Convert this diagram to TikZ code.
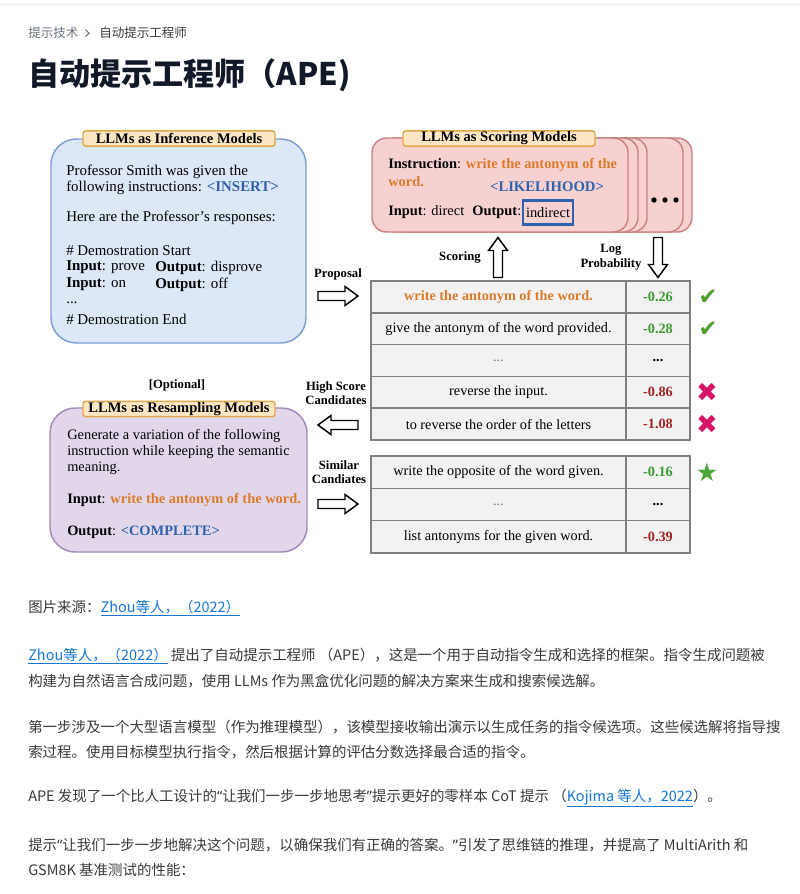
\documentclass[tikz,border=0pt]{standalone}
\usepackage{fontspec}
\setmainfont{Liberation Serif}
\newfontfamily\cjk{Noto Sans CJK SC}
\newfontfamily\symf{DejaVu Sans}
\newfontfamily\latq{Noto Sans}

\definecolor{infFill}{HTML}{DCE7F7}
\definecolor{infLine}{HTML}{7C9FCE}
\definecolor{tabFill}{HTML}{FCE6C4}
\definecolor{tabLine}{HTML}{E2A948}
\definecolor{scFill}{HTML}{F7D0D0}
\definecolor{scLine}{HTML}{C98282}
\definecolor{rsFill}{HTML}{E2D6EB}
\definecolor{rsLine}{HTML}{9F8BB4}
\definecolor{orangeT}{HTML}{DB7B2B}
\definecolor{blueT}{HTML}{2F62AC}
\definecolor{greenT}{HTML}{3D9A35}
\definecolor{redT}{HTML}{A32626}
\definecolor{xmarkC}{HTML}{D51668}
\definecolor{cmarkC}{HTML}{4F9C2A}
\definecolor{starC}{HTML}{4DA83A}
\definecolor{cellFill}{HTML}{F2F2F2}
\definecolor{cellLine}{HTML}{808080}
\definecolor{bodyT}{HTML}{3A3A3A}
\definecolor{linkT}{HTML}{1677D2}
\definecolor{crumbT}{HTML}{6B7280}
\definecolor{titleT}{HTML}{111827}

\newcommand{\myLQ}{{\latq “}}
\newcommand{\myRQ}{{\latq ”}}

\tikzset{
  tablabel/.style={draw=tabLine, fill=tabFill, line width=1.1pt, rounded corners=2pt,
    minimum width=144pt, minimum height=11.5pt, inner sep=0pt,
    font=\fontsize{10.9}{12}\selectfont\bfseries},
  boxtxt/.style={anchor=west, inner sep=0pt, font=\fontsize{11.2}{12.75}\selectfont},
  rstxt/.style={anchor=west, inner sep=0pt, font=\fontsize{10.8}{12.75}\selectfont},
  sctxt/.style={anchor=west, inner sep=0pt, font=\fontsize{10.8}{12.75}\selectfont},
  sidelbl/.style={inner sep=0pt, align=center, font=\fontsize{9.5}{12}\selectfont\bfseries},
  cellA/.style={draw=cellLine, fill=cellFill, line width=1.1pt, inner sep=0pt,
    minimum width=191.25pt, minimum height=23.85pt, font=\fontsize{10.7}{12}\selectfont},
  cellB/.style={cellA, minimum width=48pt, font=\fontsize{10.7}{12}\selectfont\bfseries},
  para/.style={anchor=west, inner sep=0pt, text=bodyT, font=\cjk\fontsize{10.85}{13}\selectfont},
  markn/.style={inner sep=0pt, font=\symf\fontsize{17}{17}\selectfont},
  blockarrow/.pic={\draw[line width=1.1pt, fill=white] (-20,-4.5) -- (7,-4.5) -- (7,-9.5) -- (20,0) -- (7,9.5) -- (7,4.5) -- (-20,4.5) -- cycle;}
}

\begin{document}
\begin{tikzpicture}[x=0.75pt,y=-0.75pt]
\useasboundingbox[fill=white] (0,0) rectangle (800,894);
\draw[line width=0.75pt, draw=black!7] (0,4.5) -- (800,4.5);

% breadcrumb and title
\node[anchor=west, inner sep=0pt, text=crumbT, font=\cjk\fontsize{9.4}{11}\selectfont] (crumb1) at (28,33) {提示技术};
\draw[crumbT, line width=0.8pt] (85.5,29.5) -- (89,33) -- (85.5,36.5);
\node[anchor=west, inner sep=0pt, text=bodyT, font=\cjk\fontsize{9.4}{11}\selectfont] (crumb2) at (99,33) {自动提示工程师};
\node[anchor=west, inner sep=0pt, text=titleT, font=\cjk\bfseries\fontsize{23.3}{26}\selectfont] (title) at (28,75) {自动提示工程师（APE)};

% ---------- Inference box ----------
\node[draw=infLine, fill=infFill, line width=1.1pt, rounded corners=19pt,
  minimum width=191.25pt, minimum height=153pt] (inf) at (178.5,241) {};
\node[tablabel] (inftab) at (179,138.5) {LLMs as Inference Models};
\node[boxtxt] (i1) at (66,172) {Professor Smith was given the};
\node[boxtxt] (i2) at (66,188) {following instructions: \textcolor{blueT}{\bfseries <INSERT>}};
\node[boxtxt] (i3) at (66,218) {Here are the Professor’s responses:};
\node[boxtxt] (i4) at (66,250.5) {\# Demostration Start};
\node[boxtxt] (i5) at (66,267.5) {\textbf{Input}: prove};
\node[boxtxt] (i5b) at (155,267.5) {\textbf{Output}: disprove};
\node[boxtxt] (i6) at (66,284.5) {\textbf{Input}: on};
\node[boxtxt] (i6b) at (155,284.5) {\textbf{Output}: off};
\node[anchor=base west, inner sep=0pt, font=\fontsize{11.2}{12.75}\selectfont, text height=2pt, text depth=0pt] (i7) at (66,303) {...};
\node[boxtxt] (i8) at (66,319) {\# Demostration End};

% ---------- Scoring stack ----------
\foreach \dx/\nm in {64/s4,55/s3,19/s2,10/s1}{
  \node[draw=scLine, fill=scFill, line width=1.1pt, rounded corners=11pt,
    minimum width=192pt, minimum height=70.5pt] (\nm) at (500+\dx,185) {};
}
\node[draw=scLine, fill=scFill, line width=1.1pt, rounded corners=11pt,
  minimum width=192pt, minimum height=70.5pt] (sc) at (500,185) {};
\foreach \xx in {654,665,676}{ \fill (\xx,200) circle (2.7); }
\node[tablabel] (sctab) at (499,138.5) {LLMs as Scoring Models};
\node[sctxt] (s1t) at (388,165) {\textbf{Instruction}: \textcolor{orangeT}{\bfseries write the antonym of the}};
\node[sctxt, text=orangeT, font=\fontsize{10.8}{12.75}\selectfont\bfseries] (s2t) at (388,182) {word.};
\node[inner sep=0pt, text=blueT, font=\fontsize{11}{12.75}\selectfont\bfseries] (lik) at (547,187) {<LIKELIHOOD>};
\node[sctxt] (s3t) at (388,212.5) {\textbf{Input}: direct};
\node[draw=blueT, line width=1.6pt, inner sep=0pt, minimum width=37.5pt, minimum height=18pt,
  font=\fontsize{10.8}{12.75}\selectfont] (indir) at (548,212.5) {indirect};
\node[sctxt, anchor=east] (s3o) at ([xshift=-0.3pt]indir.west) {\textbf{Output}:};

% ---------- Resampling box ----------
\node[sidelbl] (opt) at (177,385) {[Optional]};
\node[draw=rsLine, fill=rsFill, line width=1.1pt, rounded corners=19pt,
  minimum width=192.75pt, minimum height=108pt] (rs) at (178.5,480) {};
\node[tablabel] (rstab) at (179,409) {LLMs as Resampling Models};
\node[rstxt] (r1) at (67,436) {Generate a variation of the following};
\node[rstxt] (r2) at (67,452) {instruction while keeping the semantic};
\node[rstxt] (r3) at (67,468) {meaning.};
\node[rstxt] (r4) at (67,499.5) {\textbf{Input}: \textcolor{orangeT}{\bfseries write the antonym of the word.}};
\node[rstxt] (r5) at (67,532.5) {\textbf{Output}: \textcolor{blueT}{\bfseries <COMPLETE>}};

% ---------- Table 1 ----------
\node[cellA, text=orangeT, font=\fontsize{10.7}{12}\selectfont\bfseries] (a1) at (498.5,296.9) {write the antonym of the word.};
\node[cellB, text=greenT] (b1) at (658,296.9) {-0.26};
\node[cellA] (a2) at (498.5,328.7) {give the antonym of the word provided.};
\node[cellB, text=greenT] (b2) at (658,328.7) {-0.28};
\node[cellA, text=black!55] (a3) at (498.5,360.5) {...};
\node[cellB] (b3) at (658,360.5) {...};
\node[cellA] (a4) at (498.5,392.3) {reverse the input.};
\node[cellB, text=redT] (b4) at (658,392.3) {-0.86};
\node[cellA] (a5) at (498.5,424.1) {to reverse the order of the letters};
\node[cellB, text=redT] (b5) at (658,424.1) {-1.08};

% ---------- Table 2 ----------
\node[cellA, minimum height=24.2pt] (c1) at (498.5,472.2) {write the opposite of the word given.};
\node[cellB, minimum height=24.2pt, text=greenT] (d1) at (658,472.2) {-0.16};
\node[cellA, minimum height=24.2pt, text=black!55] (c2) at (498.5,504.5) {...};
\node[cellB, minimum height=24.2pt] (d2) at (658,504.5) {...};
\node[cellA, minimum height=24.2pt] (c3) at (498.5,536.8) {list antonyms for the given word.};
\node[cellB, minimum height=24.2pt, text=redT] (d3) at (658,536.8) {-0.39};

% marks
\node[markn, text=cmarkC] (m1) at (708,297) {✔};
\node[markn, text=cmarkC] (m2) at (708,329) {✔};
\node[markn, text=xmarkC, font=\symf\fontsize{19.5}{20}\selectfont] (m4) at (707,392.5) {✖};
\node[markn, text=xmarkC, font=\symf\fontsize{19.5}{20}\selectfont] (m5) at (707,424.5) {✖};
\node[markn, text=starC, font=\symf\fontsize{19}{19}\selectfont] (m6) at (707,472) {★};

% ---------- arrows and labels ----------
\node[sidelbl] (lprop) at (338,274) {Proposal};
\pic at (338,296) {blockarrow};
\node[sidelbl] (lscore) at (460,257) {Scoring};
\pic[rotate=90] at (498,257.5) {blockarrow};
\node[sidelbl] (llog) at (611,257) {Log\\[-1pt]Probability};
\pic[rotate=-90] at (658,257.5) {blockarrow};
\node[sidelbl] (lhigh) at (336,393) {High Score\\[-1pt]Candidates};
\pic[rotate=180] at (338,425) {blockarrow};
\node[sidelbl] (lsim) at (339,472) {Similar\\[-1pt]Candiates};
\pic at (338,504) {blockarrow};

% ---------- paragraphs ----------
\node[para] (p0) at (28,608) {图片来源：\textcolor{linkT}{\underline{Zhou等人，（2022）}}};
\node[para] (p1) at (28,656) {\textcolor{linkT}{\underline{Zhou等人，（2022）}} 提出了自动提示工程师 （APE），这是一个用于自动指令生成和选择的框架。指令生成问题被};
\node[para] (p2) at (28,681) {构建为自然语言合成问题，使用 LLMs 作为黑盒优化问题的解决方案来生成和搜索候选解。};
\node[para] (p3) at (28,727) {第一步涉及一个大型语言模型（作为推理模型），该模型接收输出演示以生成任务的指令候选项。这些候选解将指导搜};
\node[para] (p4) at (28,752) {索过程。使用目标模型执行指令，然后根据计算的评估分数选择最合适的指令。};
\node[para] (p5) at (28,798) {APE 发现了一个比人工设计的\myLQ 让我们一步一步地思考\myRQ 提示更好的零样本 CoT 提示 （\textcolor{linkT}{\underline{Kojima 等人，2022}}）。};
\node[para] (p6) at (28,845) {提示\myLQ 让我们一步一步地解决这个问题，以确保我们有正确的答案。\myRQ 引发了思维链的推理，并提高了 MultiArith 和};
\node[para] (p7) at (28,870) {GSM8K 基准测试的性能：};
\end{tikzpicture}
\end{document}
